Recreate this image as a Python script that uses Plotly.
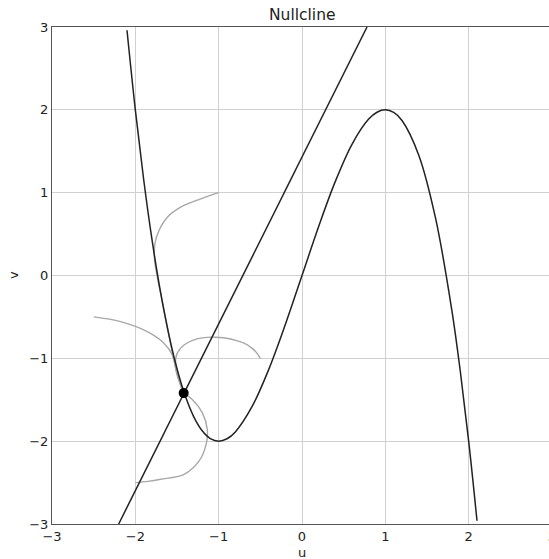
import plotly.graph_objects as go

# u-nullcline (cubic) sample points
cubic_u = [-2.1, -2.0, -1.9, -1.8, -1.7, -1.6, -1.5, -1.4, -1.3, -1.2, -1.1, -1.0,
           -0.9, -0.8, -0.6, -0.4, -0.2, 0.0, 0.2, 0.4, 0.6, 0.8, 0.9, 1.0, 1.1, 1.2,
           1.4, 1.6, 1.8, 1.9, 2.0, 2.1]
cubic_v = [2.961, 2.0, 1.159, 0.432, -0.187, -0.704, -1.125, -1.456, -1.703, -1.872,
           -1.969, -2.0, -1.971, -1.888, -1.584, -1.136, -0.592, 0.0, 0.592, 1.136,
           1.584, 1.888, 1.971, 2.0, 1.969, 1.872, 1.456, 0.704, -0.432, -1.159,
           -2.0, -2.961]

# v-nullcline (straight line) end points
line_u = [-2.2, 0.78]
line_v = [-3.0, 3.0]

# equilibrium point
eq_u = [-1.42]
eq_v = [-1.42]

# trajectories converging to the equilibrium
traj1_u = [-1.0, -1.216, -1.456, -1.616, -1.716, -1.765, -1.77, -1.74, -1.69, -1.62, -1.55, -1.48, -1.42]
traj1_v = [1.0, 0.925, 0.825, 0.704, 0.544, 0.385, 0.2, 0.0, -0.25, -0.6, -0.95, -1.25, -1.42]

traj2_u = [-2.5, -2.177, -1.856, -1.657, -1.556, -1.50, -1.42]
traj2_v = [-0.5, -0.557, -0.678, -0.817, -0.958, -1.2, -1.42]

traj3_u = [-0.5, -0.576, -0.696, -1.036, -1.296, -1.456, -1.516, -1.49, -1.42]
traj3_v = [-1.0, -0.898, -0.817, -0.745, -0.778, -0.877, -1.0, -1.2, -1.42]

traj4_u = [-2.0, -1.85, -1.696, -1.416, -1.236, -1.156, -1.136, -1.196, -1.316, -1.42]
traj4_v = [-2.5, -2.485, -2.46, -2.40, -2.24, -2.06, -1.859, -1.659, -1.498, -1.42]

traj_color = "#a8a8a8"
null_color = "#222222"

fig = go.Figure()

for tu, tv in [(traj1_u, traj1_v), (traj2_u, traj2_v), (traj3_u, traj3_v), (traj4_u, traj4_v)]:
    fig.add_trace(go.Scatter(x=tu, y=tv, mode="lines",
                             line=dict(color=traj_color, width=1.4, shape="spline", smoothing=1.0),
                             showlegend=False, hoverinfo="skip"))

fig.add_trace(go.Scatter(x=cubic_u, y=cubic_v, mode="lines",
                         line=dict(color=null_color, width=1.5, shape="spline", smoothing=1.0),
                         showlegend=False))
fig.add_trace(go.Scatter(x=line_u, y=line_v, mode="lines",
                         line=dict(color=null_color, width=1.5),
                         showlegend=False))
fig.add_trace(go.Scatter(x=eq_u, y=eq_v, mode="markers",
                         marker=dict(color="black", size=10),
                         showlegend=False))

tick_font = dict(family="DejaVu Sans", size=13, color="#222")
axis_common = dict(
    showgrid=True, gridcolor="#d0d0d0", gridwidth=1,
    showline=True, linecolor="#555", linewidth=1.2, mirror=True,
    zeroline=False, ticks="", tickfont=tick_font,
    tickmode="array", tickvals=[-3, -2, -1, 0, 1, 2, 3],
    ticklabeloverflow="allow",
    automargin=False,
)

fig.update_layout(
    width=553, height=559,
    margin=dict(l=52, r=1, t=27, b=35),
    paper_bgcolor="white", plot_bgcolor="white",
    xaxis=dict(range=[-3, 3], **axis_common),
    yaxis=dict(range=[-3, 3], **axis_common),
    annotations=[
        dict(text="Nullcline", x=0.5, y=1, xref="paper", yref="paper",
             xanchor="center", yanchor="bottom", yshift=1, showarrow=False,
             font=dict(family="DejaVu Sans", size=15.5, color="#222")),
        dict(text="u", x=0.5, y=0, xref="paper", yref="paper",
             xanchor="center", yanchor="top", yshift=-19, showarrow=False,
             font=dict(family="DejaVu Sans", size=13, color="#222")),
        dict(text="v", x=0, y=0.5, xref="paper", yref="paper",
             xanchor="right", yanchor="middle", xshift=-29, textangle=-90, showarrow=False,
             font=dict(family="DejaVu Sans", size=13, color="#222")),
    ],
)

fig.write_html("out.html",
               post_script="document.documentElement.style.overflow='hidden';document.body.style.overflow='hidden';")
